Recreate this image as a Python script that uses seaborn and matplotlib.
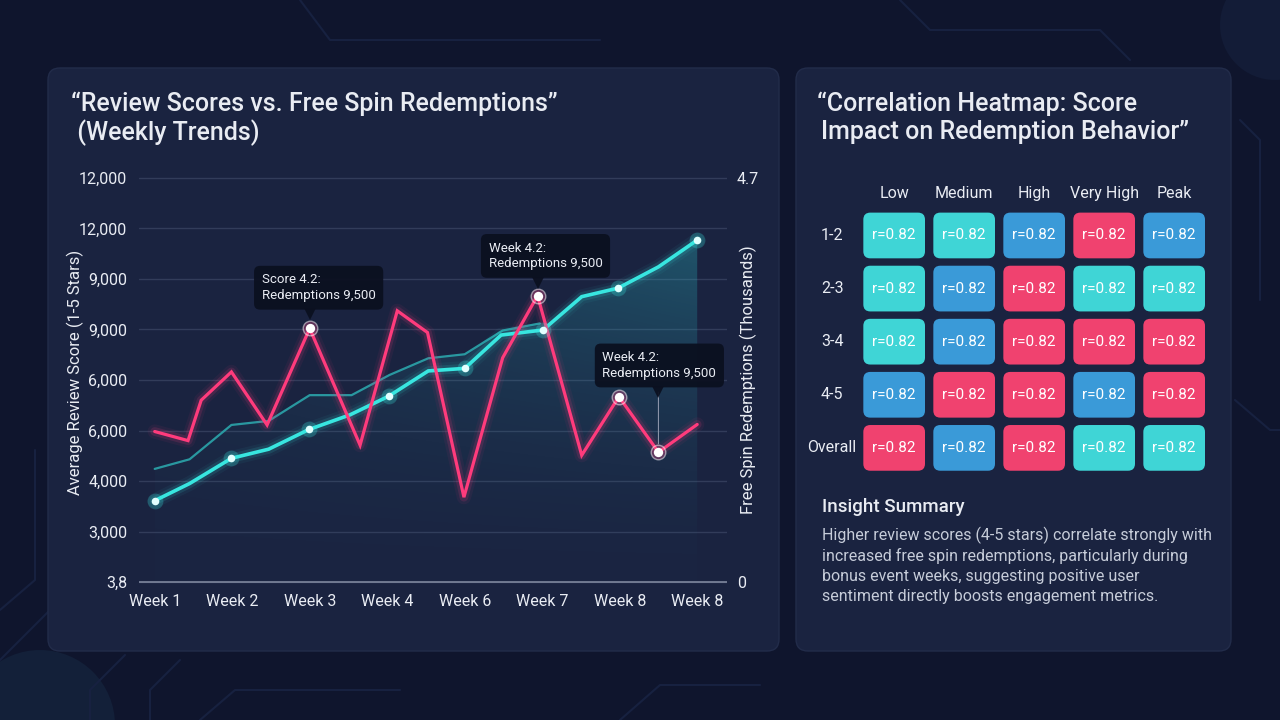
import numpy as np
import pandas as pd
import matplotlib
matplotlib.use("Agg")
import matplotlib.pyplot as plt
import seaborn as sns
from matplotlib.patches import FancyBboxPatch, Polygon, Circle
from matplotlib.transforms import offset_copy
from matplotlib.colors import ListedColormap

# ---------------- data ----------------
week_labels = ["Week 1", "Week 2", "Week 3", "Week 4", "Week 6", "Week 7", "Week 8", "Week 8"]
left_tick_labels = ["3,8", "3,000", "4,000", "6,000", "6,000", "9,000", "9,000", "12,000", "12,000"]
right_tick_labels = ["0", "4.7"]

# review score series (pink): position in week index, value in gridline units
score_x = [0, 0.43, 0.60, 0.99, 1.45, 2.0, 2.65, 3.13, 3.52, 3.99, 4.49, 4.94, 5.51, 5.99, 6.5, 7.0]
score_y = [2.98, 2.80, 3.60, 4.16, 3.11, 5.02, 2.71, 5.37, 4.94, 1.68, 4.44, 5.67, 2.51, 3.67, 2.57, 3.12]
score_highlight_idx = [5, 11, 13, 14]

# free spin redemptions (cyan)
redeem_x = [0, 0.45, 0.99, 1.47, 1.99, 2.52, 3.02, 3.53, 4.0, 4.47, 5.01, 5.51, 5.98, 6.5, 7.0]
redeem_y = [1.61, 1.95, 2.45, 2.63, 3.02, 3.31, 3.68, 4.18, 4.23, 4.89, 4.99, 5.65, 5.82, 6.24, 6.77]
redeem_marker_idx = [0, 2, 4, 6, 8, 10, 12, 14]

# trend line (teal)
trend_x = [0, 0.45, 0.99, 1.47, 2.0, 2.54, 3.03, 3.53, 4.0, 4.49, 4.97]
trend_y = [2.24, 2.43, 3.11, 3.19, 3.70, 3.70, 4.10, 4.43, 4.51, 4.98, 5.12]

tooltip_texts = ["Score 4.2:\nRedemptions 9,500", "Week 4.2:\nRedemptions 9,500", "Week 4.2:\nRedemptions 9,500"]
tooltip_idx = [5, 11, 14]

heat_rows = ["1-2", "2-3", "3-4", "4-5", "Overall"]
heat_cols = ["Low", "Medium", "High", "Very High", "Peak"]
# colour class of each cell: 0 = cyan, 1 = blue, 2 = pink
heat_class = [[0, 0, 1, 2, 1],
              [0, 1, 2, 0, 0],
              [0, 1, 2, 2, 2],
              [1, 2, 2, 1, 2],
              [2, 1, 2, 0, 0]]
heat_r = [[0.82, 0.82, 0.82, 0.82, 0.82],
          [0.82, 0.82, 0.82, 0.82, 0.82],
          [0.82, 0.82, 0.82, 0.82, 0.82],
          [0.82, 0.82, 0.82, 0.82, 0.82],
          [0.82, 0.82, 0.82, 0.82, 0.82]]

insight_title = "Insight Summary"
insight_lines = ["Higher review scores (4-5 stars) correlate strongly with",
                 "increased free spin redemptions, particularly during",
                 "bonus event weeks, suggesting positive user",
                 "sentiment directly boosts engagement metrics."]

# ---------------- style ----------------
BG = "#0f152d"
PANEL = "#1a2340"
PANEL_EDGE = "#222c4a"
GRID = "#323c5a"
TEXT = "#e9ecf3"
SUB = "#c6ccd9"
PINK = "#ff3b7c"
CYAN = "#38e6e0"
TEAL = "#2a9fa6"
TIP = "#0b1020"
CELL_COLORS = ["#3fd5d6", "#3a9ad8", "#f0426f"]

sns.set_theme(style="dark")
plt.rcParams['font.family'] = ['Roboto', 'DejaVu Sans']

W, H = 1280, 720
fig = plt.figure(figsize=(12.8, 7.2), dpi=100, facecolor=BG)


def rect(l, t, r, b):
    return [l / W, 1 - b / H, (r - l) / W, (b - t) / H]


bg = fig.add_axes([0, 0, 1, 1])
bg.set_xlim(0, W)
bg.set_ylim(H, 0)
bg.axis('off')
bg.set_zorder(0)

# faint background decoration
bg.add_patch(Circle((40, 725), 75, fc="#132039", ec="none", zorder=0))
bg.add_patch(Circle((1275, 25), 55, fc="#131c37", ec="none", zorder=0))
deco = [
    [(0, 610), (35, 580), (35, 450)],
    [(0, 660), (60, 600), (60, 540)],
    [(90, 720), (90, 690), (125, 655)],
    [(150, 720), (150, 690), (180, 660)],
    [(200, 720), (235, 690), (400, 690)],
    [(620, 720), (660, 685), (760, 685)],
    [(1240, 120), (1260, 140), (1260, 300)],
    [(1235, 400), (1270, 430), (1280, 430)],
    [(900, 0), (930, 30), (1100, 30), (1130, 60)],
    [(300, 0), (330, 40), (600, 40)],
]
for seg in deco:
    xs, ys = zip(*seg)
    bg.plot(xs, ys, color="#172140", lw=1.5, zorder=0)

for (x0, y0, x1, y1) in [(48, 68, 779, 651), (796, 68, 1231, 651)]:
    bg.add_patch(FancyBboxPatch((x0, y0), x1 - x0, y1 - y0,
                                boxstyle="round,pad=0,rounding_size=12",
                                fc=PANEL, ec=PANEL_EDGE, lw=1, zorder=1))

# titles
TS = 18
bg.text(71, 104, "\u201cReview Scores vs. Free Spin Redemptions\u201d", fontsize=TS,
        color=TEXT, va='center', ha='left', fontweight='medium')
bg.text(71, 133, " (Weekly Trends)", fontsize=TS, color=TEXT, va='center', ha='left',
        fontweight='medium')
bg.text(817, 104, "\u201cCorrelation Heatmap: Score", fontsize=TS, color=TEXT,
        va='center', ha='left', fontweight='medium')
bg.text(821, 132, "Impact on Redemption Behavior\u201d", fontsize=TS, color=TEXT,
        va='center', ha='left', fontweight='medium')

bg.text(75, 372, "Average Review Score (1-5 Stars)", rotation=90, fontsize=12,
        color=TEXT, ha='center', va='center')
bg.text(748, 380, "Free Spin Redemptions (Thousands)", rotation=90, fontsize=12,
        color=TEXT, ha='center', va='center')

# insight summary
bg.text(822, 507, insight_title, fontsize=13.5, fontweight='medium', color=TEXT,
        va='center', ha='left')
for k, line in enumerate(insight_lines):
    bg.text(822, 535 + k * 20.6, line, fontsize=11.5, color=SUB, va='center', ha='left')

# ---------------- line chart ----------------
ax = fig.add_axes(rect(139, 170.4, 727, 589.6))
ax.set_zorder(2)
ax.patch.set_alpha(0)
for s in ax.spines.values():
    s.set_visible(False)

# gradient area under upper envelope
env_x = list(trend_x) + [x for x in redeem_x if x > trend_x[-1]]
env_y = list(trend_y) + [y for x, y in zip(redeem_x, redeem_y) if x > trend_x[-1]]
verts = [(env_x[0], 0)] + list(zip(env_x, env_y)) + [(env_x[-1], 0)]
poly = Polygon(verts, closed=True, fc='none', ec='none', transform=ax.transData)
ax.add_patch(poly)
ny, nx = 200, 200
gy = np.linspace(0, 1, ny)[:, None]
gx = np.linspace(0, 1, nx)[None, :]
alpha = 0.01 + 0.34 * (gy ** 1.6) * (0.35 + 0.65 * gx)
img = np.zeros((ny, nx, 4))
img[..., 0] = 0.17
img[..., 1] = 0.72
img[..., 2] = 0.76
img[..., 3] = alpha
im = ax.imshow(img, extent=[0, 7, 0, 7], origin='lower', aspect='auto', zorder=1,
               interpolation='bilinear')
im.set_clip_path(poly)


def glow_line(x, y, color, lw, layers):
    for extra, a in layers:
        sns.lineplot(x=x, y=y, ax=ax, color=color, linewidth=lw + extra, alpha=a,
                     sort=False, estimator=None, legend=False, zorder=3,
                     solid_joinstyle='round', solid_capstyle='round')
    sns.lineplot(x=x, y=y, ax=ax, color=color, linewidth=lw, sort=False,
                 estimator=None, legend=False, zorder=4,
                 solid_joinstyle='miter', solid_capstyle='round')


sns.lineplot(x=trend_x, y=trend_y, ax=ax, color=TEAL, linewidth=1.6, alpha=0.95,
             sort=False, estimator=None, legend=False, zorder=3)
glow_line(redeem_x, redeem_y, CYAN, 2.6, [(8, 0.05), (4, 0.12)])
glow_line(score_x, score_y, PINK, 2.3, [(8, 0.06), (4, 0.14)])

# cyan markers
mx = [redeem_x[i] for i in redeem_marker_idx]
my = [redeem_y[i] for i in redeem_marker_idx]
ax.scatter(mx, my, s=130, color=CYAN, alpha=0.25, lw=0, zorder=5)
ax.scatter(mx, my, s=30, color="#e3ffff", lw=0, zorder=6)

# pink highlight markers
hx = [score_x[i] for i in score_highlight_idx]
hy = [score_y[i] for i in score_highlight_idx]
ax.scatter(hx, hy, s=110, facecolor=(1, 0.35, 0.6, 0.25), edgecolor=(1, 1, 1, 0.5),
           lw=1, zorder=6)
ax.scatter(hx, hy, s=45, color="white", lw=0, zorder=7)

# tooltips: (dx, dy) offset in pixels of text top-left from point; pointer offset
tip_offsets = [(-48, 55), (-49, 54), (-56, 101)]
pointer_off = [14, 13, 60]
for k, idx in enumerate(tooltip_idx):
    px, py = score_x[idx], score_y[idx]
    dx, dy = tip_offsets[k]
    if k == 2:
        ax.annotate('', xy=(px, py), xytext=(0, pointer_off[k]), textcoords='offset pixels',
                    arrowprops=dict(arrowstyle='-', color='#8a93a8', lw=0.8,
                                    shrinkA=0, shrinkB=6), zorder=8)
    tr = offset_copy(ax.transData, fig=fig, x=0, y=pointer_off[k], units='dots')
    ax.plot([px], [py], marker='v', ms=8, color=TIP, alpha=0.95, transform=tr,
            zorder=9, mew=0)
    ax.annotate(tooltip_texts[k], xy=(px, py), xytext=(dx, dy), textcoords='offset pixels',
                ha='left', va='top', fontsize=9.5, color=TEXT, linespacing=1.25,
                bbox=dict(boxstyle='round,pad=0.58,rounding_size=0.45', fc=TIP,
                          ec='none', alpha=0.95), zorder=10)

ax.set_xlim(-0.2026, 7.3845)
ax.set_ylim(-0.15, 8.15)
ax.set_xticks(range(len(week_labels)))
ax.set_xticklabels(week_labels)
ax.set_yticks(range(len(left_tick_labels)))
ax.set_yticklabels(left_tick_labels)
ax.set_xlabel("")
ax.set_ylabel("")
ax.tick_params(axis='x', length=0, pad=3, labelsize=11.5, colors=TEXT)
ax.tick_params(axis='y', length=0, pad=8.5, labelsize=11.5, colors=TEXT)
ax.yaxis.grid(True, color=GRID, lw=1)
ax.xaxis.grid(False)
ax.set_axisbelow(True)
ax.axhline(0, color="#7d869d", lw=1.2, zorder=2)

ax2 = ax.twinx()
ax2.set_ylim(ax.get_ylim())
ax2.set_yticks([0, 8])
ax2.set_yticklabels(right_tick_labels)
ax2.tick_params(axis='y', length=0, pad=7, labelsize=11.5, colors=TEXT)
ax2.grid(False)
for s in ax2.spines.values():
    s.set_visible(False)
ax2.patch.set_alpha(0)

# ---------------- heatmap ----------------
hax = fig.add_axes(rect(859.2, 208.9, 1209.2, 474.4))
hax.patch.set_alpha(0)
cmap3 = ListedColormap(CELL_COLORS)
df_class = pd.DataFrame(heat_class, index=heat_rows, columns=heat_cols)
annot = np.array([[f"r={v:.2f}" for v in row] for row in heat_r])
sns.heatmap(df_class, ax=hax, cmap=cmap3, vmin=-0.5, vmax=2.5, cbar=False,
            annot=annot, fmt='', alpha=0,
            annot_kws=dict(color='white', fontsize=11))
for i, row in enumerate(heat_class):
    for j, c in enumerate(row):
        hax.add_patch(FancyBboxPatch((j + 0.059, i + 0.07), 0.881, 0.861,
                                     boxstyle="round,pad=0,rounding_size=0.1",
                                     mutation_aspect=1.318, fc=CELL_COLORS[c],
                                     ec='none', zorder=1.5))
hax.xaxis.tick_top()
hax.tick_params(axis='x', length=0, pad=6, labelsize=11.5, colors=TEXT,
                top=True, labeltop=True, bottom=False, labelbottom=False)
hax.tick_params(axis='y', length=0, pad=19.5, labelsize=11.5, colors=TEXT)
plt.setp(hax.get_xticklabels(), rotation=0)
plt.setp(hax.get_yticklabels(), rotation=0, ha='center')
hax.set_xlabel("")
hax.set_ylabel("")
for s in hax.spines.values():
    s.set_visible(False)

fig.savefig("out.png", dpi=100, facecolor=BG)
